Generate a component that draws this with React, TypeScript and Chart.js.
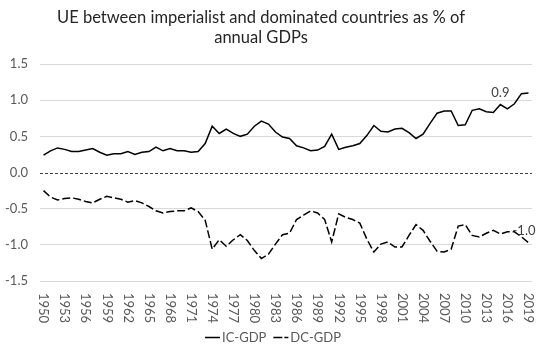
import React, { useEffect, useRef } from 'react';
import { Chart, registerables } from 'chart.js';

Chart.register(...registerables);

const years: string[] = [
  '1950','1951','1952','1953','1954','1955','1956','1957','1958','1959',
  '1960','1961','1962','1963','1964','1965','1966','1967','1968','1969',
  '1970','1971','1972','1973','1974','1975','1976','1977','1978','1979',
  '1980','1981','1982','1983','1984','1985','1986','1987','1988','1989',
  '1990','1991','1992','1993','1994','1995','1996','1997','1998','1999',
  '2000','2001','2002','2003','2004','2005','2006','2007','2008','2009',
  '2010','2011','2012','2013','2014','2015','2016','2017','2018','2019',
];

const icGdp: number[] = [
  0.24, 0.30, 0.34, 0.32, 0.29, 0.29, 0.31, 0.33, 0.28, 0.24,
  0.26, 0.26, 0.29, 0.25, 0.28, 0.29, 0.35, 0.30, 0.33, 0.30,
  0.30, 0.28, 0.29, 0.40, 0.64, 0.54, 0.60, 0.54, 0.50, 0.53,
  0.64, 0.71, 0.67, 0.56, 0.49, 0.47, 0.37, 0.34, 0.30, 0.31,
  0.36, 0.53, 0.32, 0.35, 0.37, 0.40, 0.51, 0.65, 0.57, 0.56,
  0.60, 0.61, 0.55, 0.47, 0.53, 0.68, 0.82, 0.85, 0.85, 0.65,
  0.66, 0.86, 0.88, 0.84, 0.83, 0.94, 0.88, 0.95, 1.09, 1.10,
];

const dcGdp: number[] = [
  -0.25, -0.34, -0.38, -0.36, -0.35, -0.37, -0.40, -0.42, -0.37, -0.33,
  -0.35, -0.37, -0.41, -0.39, -0.42, -0.47, -0.53, -0.56, -0.54, -0.53,
  -0.53, -0.49, -0.54, -0.66, -1.06, -0.93, -1.02, -0.93, -0.86, -0.94,
  -1.08, -1.19, -1.13, -0.99, -0.86, -0.84, -0.65, -0.59, -0.53, -0.56,
  -0.65, -0.96, -0.57, -0.62, -0.65, -0.70, -0.92, -1.10, -0.99, -0.96,
  -1.03, -1.03, -0.87, -0.72, -0.80, -0.95, -1.09, -1.10, -1.06, -0.74,
  -0.72, -0.87, -0.89, -0.84, -0.80, -0.85, -0.82, -0.82, -0.89, -0.97,
];

const seriesNames: string[] = ['IC-GDP', 'DC-GDP'];
const titleLines: string[] = ['UE between imperialist and dominated countries as % of', 'annual GDPs'];
const yTicks: number[] = [-1.5, -1.0, -0.5, 0.0, 0.5, 1.0, 1.5];
const xLabelStep = 3;
// which points carry a value label: [datasetIndex, pointIndex]
const labeledPoints: [number, number][] = [[0, 65], [1, 69]];

const FONT = 'Lato, "Open Sans", sans-serif';
const TEXT = '#595959';
const LINE = '#000000';
const DASH = [8, 3];

const overlayPlugin = {
  id: 'overlay',
  beforeDatasetsDraw(chart: any) {
    const { ctx, chartArea, scales } = chart;
    const y0 = scales.y.getPixelForValue(0);
    ctx.save();
    ctx.strokeStyle = '#404040';
    ctx.lineWidth = 1;
    ctx.setLineDash([3, 2]);
    ctx.beginPath();
    ctx.moveTo(chartArea.left, Math.round(y0) + 0.5);
    ctx.lineTo(chartArea.right, Math.round(y0) + 0.5);
    ctx.stroke();
    ctx.restore();
  },
  afterDraw(chart: any) {
    const { ctx, chartArea, scales } = chart;
    const xs = scales.x;
    ctx.save();
    // rotated x labels (reading top to bottom)
    ctx.fillStyle = TEXT;
    ctx.font = `13px ${FONT}`;
    ctx.textAlign = 'left';
    ctx.textBaseline = 'middle';
    years.forEach((yr, i) => {
      if (i % xLabelStep !== 0) return;
      const px = xs.getPixelForValue(i);
      ctx.save();
      ctx.translate(px, chartArea.bottom + 12);
      ctx.rotate(Math.PI / 2);
      ctx.fillText(yr, 0, 0);
      ctx.restore();
    });

    // value labels
    ctx.fillStyle = '#404040';
    ctx.textAlign = 'center';
    ctx.textBaseline = 'middle';
    labeledPoints.forEach(([ds, idx]) => {
      const el = chart.getDatasetMeta(ds).data[idx];
      const v = chart.data.datasets[ds].data[idx] as number;
      ctx.fillText(v.toFixed(1), Math.min(el.x, 524), el.y - 12);
    });

    // title
    ctx.fillStyle = '#262626';
    ctx.font = `16.5px ${FONT}`;
    ctx.textAlign = 'center';
    ctx.textBaseline = 'alphabetic';
    ctx.fillText(titleLines[0], 261, 23);
    ctx.fillText(titleLines[1], 261, 43);

    // legend
    ctx.font = `13px ${FONT}`;
    ctx.textAlign = 'left';
    ctx.textBaseline = 'middle';
    const ly = 337.5;
    const sampleW = 15;
    let lx = 205;
    chart.data.datasets.forEach((d: any, i: number) => {
      ctx.strokeStyle = LINE;
      ctx.lineWidth = 1.5;
      ctx.setLineDash(i === 1 ? [9, 2] : []);
      ctx.beginPath();
      ctx.moveTo(lx, ly);
      ctx.lineTo(lx + sampleW, ly);
      ctx.stroke();
      ctx.setLineDash([]);
      ctx.fillStyle = TEXT;
      ctx.fillText(d.label, lx + sampleW + 2, ly);
      lx += sampleW + 2 + ctx.measureText(d.label).width + 7;
    });
    ctx.restore();
  },
};

export default function App() {
  const ref = useRef<HTMLCanvasElement | null>(null);
  useEffect(() => {
    document.body.style.margin = '0';
    if (!ref.current) return;
    const chart = new Chart(ref.current, {
      type: 'line',
      data: {
        labels: years,
        datasets: [
          {
            label: seriesNames[0],
            data: icGdp,
            borderColor: LINE,
            borderWidth: 1.5,
            pointRadius: 0,
            tension: 0,
            fill: false,
          },
          {
            label: seriesNames[1],
            data: dcGdp,
            borderColor: LINE,
            borderWidth: 1.5,
            borderDash: DASH,
            pointRadius: 0,
            tension: 0,
            fill: false,
          },
        ],
      },
      options: {
        animation: false,
        responsive: false,
        maintainAspectRatio: false,
        layout: { padding: { top: 64, right: 8, left: 0, bottom: 0 } },
        plugins: {
          legend: { display: false },
          title: { display: false },
          tooltip: { enabled: false },
        },
        scales: {
          x: {
            type: 'category',
            offset: true,
            grid: { display: false },
            border: { display: false },
            ticks: { display: false },
            afterFit: (s: any) => { s.height = 73; },
          },
          y: {
            min: yTicks[0],
            max: yTicks[yTicks.length - 1],
            afterBuildTicks: (s: any) => { s.ticks = yTicks.map((v) => ({ value: v })); },
            ticks: {
              color: TEXT,
              font: { family: FONT, size: 13 },
              padding: 12,
              callback: (v: any) => Number(v).toFixed(1),
            },
            grid: {
              drawTicks: false,
              color: (c: any) => (c.tick && c.tick.value === 0 ? 'rgba(0,0,0,0)' : '#d9d9d9'),
              lineWidth: 1,
            },
            border: { display: false },
            afterFit: (s: any) => { s.width = 40; },
          },
        },
      },
      plugins: [overlayPlugin],
    });
    return () => chart.destroy();
  }, []);
  return (
    <div style={{ position: 'fixed', left: 0, top: 0, width: 540, height: 354, background: '#fff' }}>
      <canvas ref={ref} width={540} height={354} style={{ width: 540, height: 354, display: 'block' }} />
    </div>
  );
}
